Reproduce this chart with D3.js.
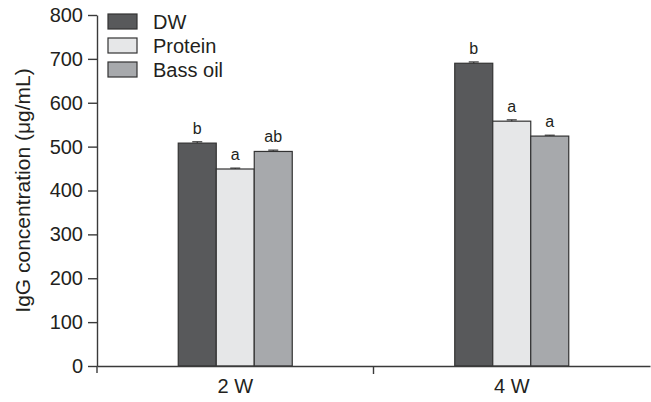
<!DOCTYPE html>
<html>
<head>
<meta charset="utf-8">
<script src="https://cdn.jsdelivr.net/npm/d3@7"></script>
<style>
  body { margin: 0; background: #fff; }
  svg text { font-family: "Liberation Sans", Arial, sans-serif; fill: #231f20; }
</style>
</head>
<body>
<div id="chart"></div>
<script>
const WIDTH = 651
const HEIGHT = 402
const AXIS_COLOR = '#3a3a3a'

const weeks = ['2 W', '4 W']
const groups = ['DW', 'Protein', 'Bass oil']
const colors = ['#58595b', '#e6e7e8', '#a7a9ac']
// IgG values per group, in week order
const dwValues = [508, 690]
const proteinValues = [449, 558]
const bassOilValues = [489, 524]
const errValues = [[3, 3], [2, 3], [3, 2]]
const letters = [['b', 'b'], ['a', 'a'], ['ab', 'a']]
const yTicks = [0, 100, 200, 300, 400, 500, 600, 700, 800]

const series = [dwValues, proteinValues, bassOilValues]

const margin = {top: 15, right: 1, bottom: 36, left: 97}

const svg = d3.select('#chart').append('svg')
  .attr('width', WIDTH)
  .attr('height', HEIGHT)

const x = d3.scaleBand()
  .domain(weeks)
  .range([margin.left, WIDTH - margin.right])

const x1 = d3.scaleBand()
  .domain(groups)
  .range([0, 114])

const y = d3.scaleLinear()
  .domain([0, 800])
  .range([HEIGHT - margin.bottom, margin.top])

// bars
groups.forEach((g, gi) => {
  const rows = weeks.map((w, wi) => ({w, v: series[gi][wi], e: errValues[gi][wi], l: letters[gi][wi]}))
  const off = (d) => x(d.w) + x.bandwidth() / 2 - 57 + x1(g)

  svg.append('g').selectAll('rect')
    .data(rows)
    .enter()
    .append('rect')
    .attr('x', d => off(d))
    .attr('y', d => y(d.v))
    .attr('width', x1.bandwidth())
    .attr('height', d => y(0) - y(d.v))
    .attr('fill', colors[gi])
    .attr('stroke', '#333')
    .attr('stroke-width', 1.2)

  // error bars
  const eb = svg.append('g').attr('stroke', '#333').attr('stroke-width', 1.2)
  rows.forEach(d => {
    const cx = off(d) + x1.bandwidth() / 2
    eb.append('line').attr('x1', cx).attr('x2', cx).attr('y1', y(d.v)).attr('y2', y(d.v + d.e))
    eb.append('line').attr('x1', cx - 5).attr('x2', cx + 5).attr('y1', y(d.v + d.e)).attr('y2', y(d.v + d.e))
  })

  svg.append('g').selectAll('text')
    .data(rows)
    .enter()
    .append('text')
    .attr('x', d => off(d) + x1.bandwidth() / 2)
    .attr('y', d => y(d.v + d.e) - 8)
    .attr('text-anchor', 'middle')
    .attr('font-size', '16px')
    .text(d => d.l)
})

// y axis
const yAxisGroup = svg.append('g')
  .attr('transform', `translate(${margin.left}, 0)`)
  .call(d3.axisLeft(y).tickValues(yTicks).tickSize(9).tickSizeOuter(0).tickPadding(5))
yAxisGroup.selectAll('path, line').attr('stroke', AXIS_COLOR).attr('stroke-width', 1.4)
yAxisGroup.selectAll('text').attr('font-size', '20px').attr('fill', '#231f20')
// small extension below the x axis
yAxisGroup.append('line').attr('x1', 0).attr('x2', 0).attr('y1', y(0)).attr('y2', y(0) + 7)
  .attr('stroke', AXIS_COLOR).attr('stroke-width', 1.4)

// x axis
const xAxisGroup = svg.append('g')
  .attr('transform', `translate(0, ${y(0)})`)
  .call(d3.axisBottom(x).tickSize(0).tickPadding(13))
xAxisGroup.select('path').attr('stroke', AXIS_COLOR).attr('stroke-width', 1.4)
xAxisGroup.selectAll('text').attr('font-size', '20px').attr('fill', '#231f20')
// divider tick between weeks
xAxisGroup.append('line')
  .attr('x1', x(weeks[1])).attr('x2', x(weeks[1]))
  .attr('y1', 0).attr('y2', 8)
  .attr('stroke', AXIS_COLOR).attr('stroke-width', 1.4)

// y title
svg.append('text')
  .attr('transform', `translate(30, ${y(400)}) rotate(-90)`)
  .attr('text-anchor', 'middle')
  .attr('font-size', '21px')
  .text('IgG concentration (\u03bcg/mL)')

// legend
const legend = svg.append('g').attr('transform', 'translate(108, 14)')
groups.forEach((g, i) => {
  legend.append('rect')
    .attr('x', 0).attr('y', i * 24)
    .attr('width', 29).attr('height', 15)
    .attr('fill', colors[i])
    .attr('stroke', '#333')
    .attr('stroke-width', 1.2)
  legend.append('text')
    .attr('x', 45).attr('y', i * 24 + 14.5)
    .attr('font-size', '20px')
    .text(g)
})
</script>
</body>
</html>
